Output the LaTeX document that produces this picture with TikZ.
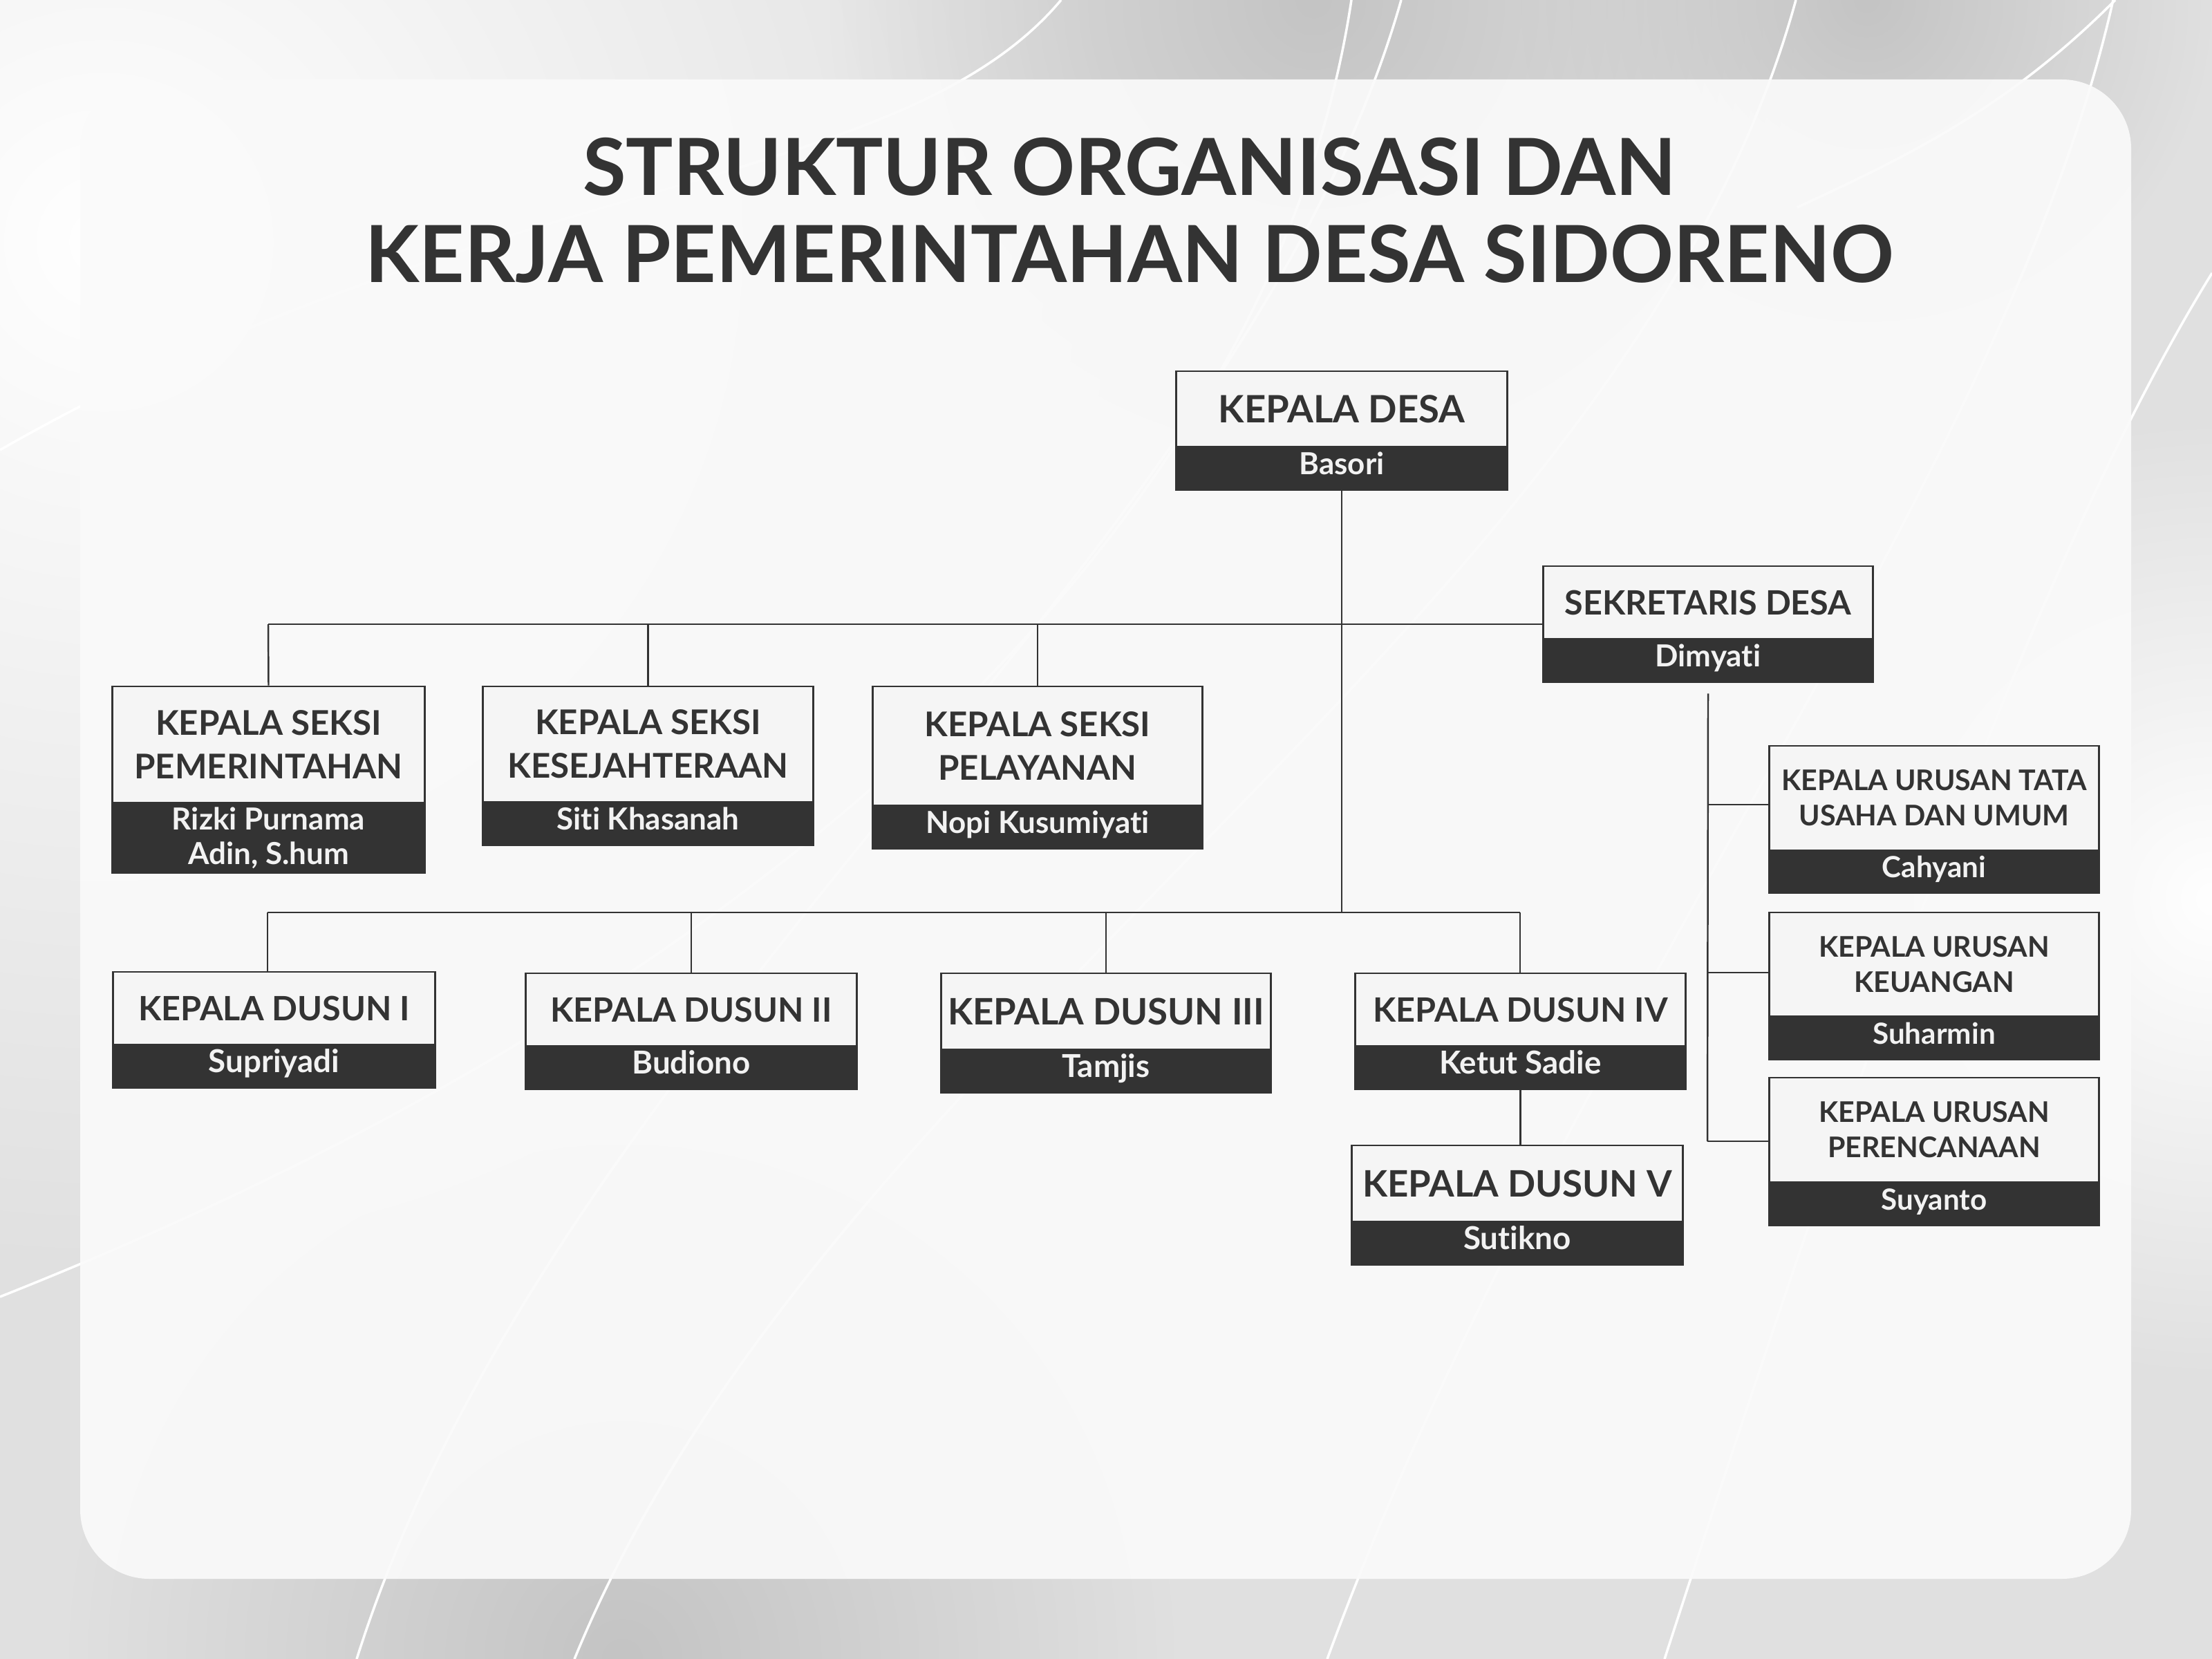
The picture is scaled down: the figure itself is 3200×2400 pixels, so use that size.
\documentclass[tikz,border=0pt]{standalone}
\usepackage{fontspec}
\setmainfont{Lato}[Ligatures=NoCommon]
\usetikzlibrary{fadings}
\tikzfading[name=softblob, inner color=transparent!0, outer color=transparent!100]
\definecolor{dk}{HTML}{333333}
\definecolor{lt}{HTML}{F5F5F5}
\definecolor{nm}{HTML}{F2F2F2}
\definecolor{bgbase}{HTML}{E0E0E0}
\definecolor{panelc}{HTML}{FAFAFA}
\definecolor{shadowc}{HTML}{C4C4C4}
\begin{document}
\begin{tikzpicture}[x=0.01cm,y=-0.01cm,
  lightpart/.style={draw=dk, fill=lt, line width=0.8pt, inner sep=0pt, align=center, text=dk},
  darkpart/.style={draw=dk, fill=dk, line width=0.8pt, inner sep=0pt, align=center, text=nm},
  oneline/.style={text height=0.72em, text depth=0.22em},
  link/.style={draw=dk, line width=0.7pt},
  swoosh/.style={draw=white, line width=1pt},
  ttl/.style={text=dk, inner sep=0pt, font={\bfseries\fontsize{32.4}{40}\selectfont}},
  fA/.style={font={\bfseries\fontsize{15.5}{18}\selectfont}},
  fB/.style={font={\bfseries\fontsize{14}{17.9}\selectfont}},
  fC/.style={font={\bfseries\fontsize{13.8}{17}\selectfont}},
  fD/.style={font={\bfseries\fontsize{15}{18}\selectfont}},
  fU/.style={font={\bfseries\fontsize{11.7}{14.5}\selectfont}},
  nA/.style={font={\bfseries\fontsize{12.5}{14.2}\selectfont}},
  nB/.style={font={\bfseries\fontsize{13}{15}\selectfont}},
  nU/.style={font={\bfseries\fontsize{12}{14}\selectfont}}]
\useasboundingbox (0,0) rectangle (3200,2400);
% background
\fill[bgbase] (0,0) rectangle (3200,2400);
\fill[white, path fading=softblob] (150,350) circle (1500);
\fill[white, path fading=softblob] (3200,1300) circle (700);
\fill[shadowc, path fading=softblob] (1900,0) circle (700);
\fill[shadowc, path fading=softblob] (900,2400) circle (800);
\fill[shadowc, path fading=softblob] (2700,0) circle (500);
% swooshes
\draw[swoosh] (0,651) .. controls (700,250) and (1300,280) .. (1535,0);
\draw[swoosh] (0,1876) .. controls (1200,1400) and (1850,700) .. (1955,0);
\draw[swoosh] (516,2400) .. controls (800,1500) and (1800,800) .. (2027,0);
\draw[swoosh] (831,2400) .. controls (1200,1500) and (2350,900) .. (2598,0);
\draw[swoosh] (1920,2400) .. controls (2250,1500) and (2900,700) .. (3057,0);
\draw[swoosh] (2408,2400) .. controls (2700,1500) and (2950,800) .. (3200,395);
\draw[swoosh] (2600,300) .. controls (2750,230) and (2900,161) .. (3060,0);
% panel
\fill[panelc, opacity=0.93, rounded corners=1cm] (116,115) rectangle (3083,2284);
% title
\node[ttl] (t1) at (1634,241) {STRUKTUR ORGANISASI DAN};
\node[ttl] (t2) at (1634,367) {KERJA PEMERINTAHAN DESA SIDORENO};
% kepala desa
\node[lightpart, fA, minimum width=4.78cm, minimum height=1.09cm] (kd) at (1941,591.5) {KEPALA DESA};
\node[darkpart, nA, oneline, minimum width=4.78cm, minimum height=0.63cm] (kdn) at (1941,677.5) {Basori};
% sekretaris
\node[lightpart, fC, minimum width=4.76cm, minimum height=1.05cm] (sd) at (2471,871.5) {SEKRETARIS DESA};
\node[darkpart, nA, oneline, minimum width=4.76cm, minimum height=0.63cm] (sdn) at (2471,955.5) {Dimyati};
% seksi
\node[lightpart, fB, minimum width=4.51cm, minimum height=1.68cm] (ks1) at (388.5,1077) {KEPALA SEKSI\\PEMERINTAHAN};
\node[darkpart, nA, minimum width=4.51cm, minimum height=1.02cm] (ks1n) at (388.5,1212) {Rizki Purnama\\Adin, S.hum};
\node[lightpart, fB, minimum width=4.77cm, minimum height=1.67cm] (ks2) at (937.5,1076.5) {KEPALA SEKSI\\KESEJAHTERAAN};
\node[darkpart, nA, oneline, minimum width=4.77cm, minimum height=0.63cm] (ks2n) at (937.5,1191.5) {Siti Khasanah};
\node[lightpart, fB, minimum width=4.76cm, minimum height=1.72cm] (ks3) at (1501,1079) {KEPALA SEKSI\\PELAYANAN};
\node[darkpart, nA, oneline, minimum width=4.76cm, minimum height=0.63cm] (ks3n) at (1501,1196.5) {Nopi Kusumiyati};
% dusun
\node[lightpart, fC, minimum width=4.65cm, minimum height=1.05cm] (d1) at (396.5,1458.5) {KEPALA DUSUN I};
\node[darkpart, nB, oneline, minimum width=4.65cm, minimum height=0.63cm] (d1n) at (396.5,1542.5) {Supriyadi};
\node[lightpart, fC, minimum width=4.78cm, minimum height=1.05cm] (d2) at (1000,1460.5) {KEPALA DUSUN II};
\node[darkpart, nB, oneline, minimum width=4.78cm, minimum height=0.63cm] (d2n) at (1000,1544.5) {Budiono};
\node[lightpart, fD, minimum width=4.76cm, minimum height=1.10cm] (d3) at (1600,1463) {KEPALA DUSUN III};
\node[darkpart, nB, oneline, minimum width=4.76cm, minimum height=0.63cm] (d3n) at (1600,1549.5) {Tamjis};
\node[lightpart, fC, minimum width=4.77cm, minimum height=1.05cm] (d4) at (2199.5,1460.5) {KEPALA DUSUN IV};
\node[darkpart, nB, oneline, minimum width=4.77cm, minimum height=0.63cm] (d4n) at (2199.5,1544.5) {Ketut Sadie};
\node[lightpart, fD, minimum width=4.78cm, minimum height=1.10cm] (d5) at (2195,1712) {KEPALA DUSUN V};
\node[darkpart, nB, oneline, minimum width=4.78cm, minimum height=0.63cm] (d5n) at (2195,1798.5) {Sutikno};
% urusan
\node[lightpart, fU, minimum width=4.76cm, minimum height=1.51cm] (u1) at (2798,1154.5) {KEPALA URUSAN TATA\\USAHA DAN UMUM};
\node[darkpart, nU, oneline, minimum width=4.76cm, minimum height=0.62cm] (u1n) at (2798,1261) {Cahyani};
\node[lightpart, fU, minimum width=4.76cm, minimum height=1.50cm] (u2) at (2798,1395) {KEPALA URUSAN\\KEUANGAN};
\node[darkpart, nU, oneline, minimum width=4.76cm, minimum height=0.63cm] (u2n) at (2798,1501.5) {Suharmin};
\node[lightpart, fU, minimum width=4.76cm, minimum height=1.51cm] (u3) at (2798,1634.5) {KEPALA URUSAN\\PERENCANAAN};
\node[darkpart, nU, oneline, minimum width=4.76cm, minimum height=0.63cm] (u3n) at (2798,1741.5) {Suyanto};
% connectors
\coordinate (tbL) at (388,903);
\coordinate (lbL) at (387,1320);
\coordinate (lbR) at (2199,1320);
\coordinate (lbM) at (1941,1320);
\draw[link] (kdn.south) -- (lbM);
\draw[link] (tbL) -- (tbL -| sd.west);
\draw[link] (tbL) -- (ks1.north);
\draw[link] (ks2.north |- tbL) -- (ks2.north);
\draw[link] (ks3.north |- tbL) -- (ks3.north);
\draw[link] (lbL) -- (lbR);
\draw[link] (lbL) -- (lbL |- d1.north);
\draw[link] (d2.north |- lbL) -- (d2.north);
\draw[link] (d3.north |- lbL) -- (d3.north);
\draw[link] (lbR) -- (lbR |- d4.north);
\draw[link] (d4n.south) -- (d4n.south |- d5.north);
\coordinate (sb1) at (2470,1164);
\coordinate (sb2) at (2470,1407);
\coordinate (sb3) at (2470,1651);
\draw[link] ([yshift=-0.15cm]sdn.south) -- (sb3);
\draw[link] (sb1) -- (sb1 -| u1.west);
\draw[link] (sb2) -- (sb2 -| u2.west);
\draw[link] (sb3) -- (sb3 -| u3.west);
\end{tikzpicture}
\end{document}
